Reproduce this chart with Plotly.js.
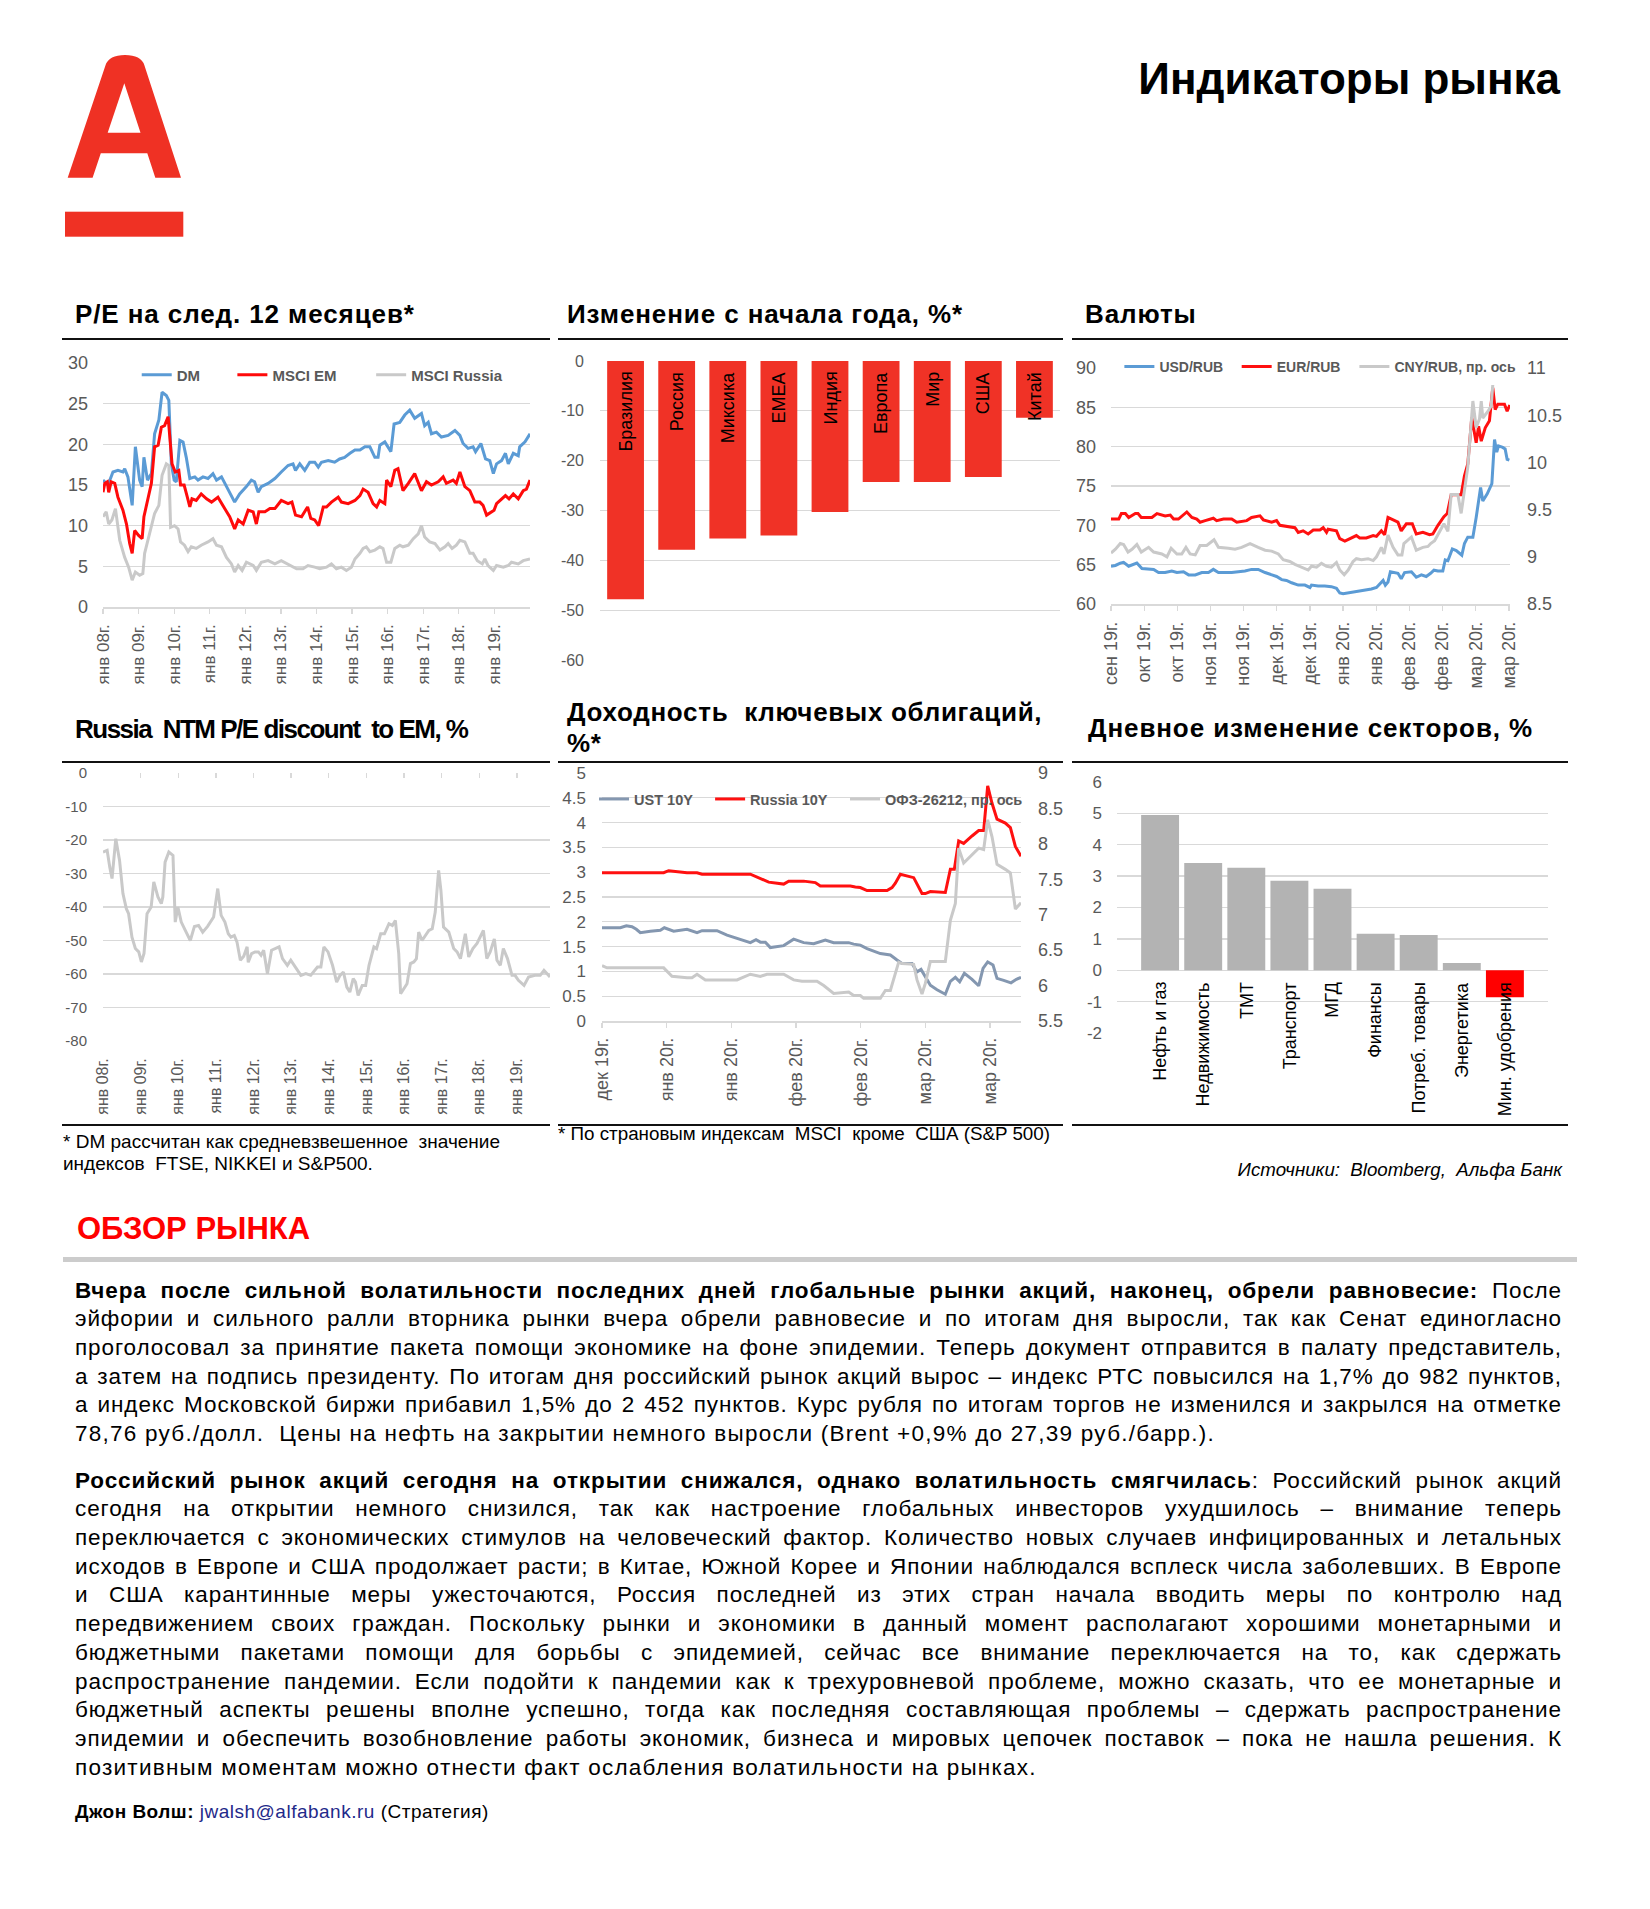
<!DOCTYPE html>
<html><head><meta charset="utf-8">
<script src="https://cdn.plot.ly/plotly-3.0.1.min.js"></script>
<style>
body{margin:0;background:#fff;}
#page{position:relative;width:1650px;height:1909px;background:#fff;font-family:'Liberation Sans',Arial,Helvetica,sans-serif;color:#000;overflow:hidden;}
.ttl{position:absolute;font-weight:bold;font-size:26px;line-height:30px;letter-spacing:0.9px;white-space:nowrap;}
.rule{position:absolute;height:2px;background:#111;}
.chart{position:absolute;}
.note{position:absolute;font-size:19px;line-height:21.6px;white-space:nowrap;}
.txt{position:absolute;left:75px;width:1487px;font-size:22.5px;line-height:28.7px;letter-spacing:0.9px;}
.txt .j{text-align:justify;text-align-last:justify;}
.txt .l{text-align:left;letter-spacing:1.25px;}
</style></head>
<body><div id="page">
<svg style="position:absolute;left:0;top:0" width="250" height="250">
<path fill="#ef3124" fill-rule="evenodd" d="M67.7 177.7 L105.6 65 Q109 55 125 55 Q141 55 144.3 65 L181 177.7 L155.3 177.7 L147.3 153.3 L100.8 153.3 L92.6 177.7 Z M107.7 132.7 L124.3 83.3 L140.5 132.7 Z"/>
<rect x="65" y="211.7" width="118.3" height="25" fill="#ef3124"/>
</svg>
<div style="position:absolute;right:90px;top:57px;font-size:44px;line-height:44px;font-weight:bold;white-space:nowrap;">Индикаторы рынка</div>

<div class="ttl" style="left:75px;top:299px">P/E на след. 12 месяцев*</div>
<div class="ttl" style="left:567px;top:299px">Изменение с начала года, %*</div>
<div class="ttl" style="left:1085px;top:299px">Валюты</div>
<div class="rule" style="left:62px;width:488px;top:338px"></div>
<div class="rule" style="left:558px;width:505px;top:338px"></div>
<div class="rule" style="left:1072px;width:496px;top:338px"></div>

<div class="ttl" style="left:75px;top:714px;letter-spacing:-1.5px">Russia&nbsp; NTM P/E discount&nbsp; to EM, %</div>
<div class="ttl" style="left:567px;top:697px;line-height:31.3px;letter-spacing:0.7px">Доходность&nbsp; ключевых облигаций,<br>%*</div>
<div class="ttl" style="left:1088px;top:713px">Дневное изменение секторов, %</div>
<div class="rule" style="left:62px;width:488px;top:761px"></div>
<div class="rule" style="left:558px;width:505px;top:761px"></div>
<div class="rule" style="left:1072px;width:496px;top:761px"></div>
<div class="rule" style="left:62px;width:488px;top:1124px"></div>
<div class="rule" style="left:558px;width:505px;top:1124px"></div>
<div class="rule" style="left:1072px;width:496px;top:1124px"></div>

<div id="c1" class="chart" style="left:60px;top:340px;width:495px;height:360px"></div>
<div id="c2" class="chart" style="left:555px;top:340px;width:515px;height:360px"></div>
<div id="c3" class="chart" style="left:1070px;top:340px;width:520px;height:360px"></div>
<div id="c4" class="chart" style="left:60px;top:762px;width:495px;height:363px"></div>
<div id="c5" class="chart" style="left:555px;top:762px;width:515px;height:363px"></div>
<div id="c6" class="chart" style="left:1070px;top:762px;width:520px;height:363px"></div>

<div class="note" style="left:63px;top:1131px">* DM рассчитан как средневзвешенное&nbsp; значение<br>индексов&nbsp; FTSE, NIKKEI и S&amp;P500.</div>
<div class="note" style="left:558px;top:1123px;font-size:18.8px">* По страновым индексам&nbsp; MSCI&nbsp; кроме&nbsp; США (S&amp;P 500)</div>
<div class="note" style="right:88px;top:1159px;font-style:italic;font-size:18.7px">Источники:&nbsp; Bloomberg,&nbsp; Альфа Банк</div>

<div style="position:absolute;left:77px;top:1212px;font-size:31px;line-height:34px;font-weight:bold;color:#ff0000;white-space:nowrap">ОБЗОР РЫНКА</div>
<div style="position:absolute;left:63px;width:1514px;top:1257px;height:5px;background:#cccccc"></div>

<div class="txt" style="top:1276.6px">
<div class="j"><b>Вчера после сильной волатильности последних дней глобальные рынки акций, наконец, обрели равновесие:</b> После</div>
<div class="j">эйфории и сильного ралли вторника рынки вчера обрели равновесие и по итогам дня выросли, так как Сенат единогласно</div>
<div class="j">проголосовал за принятие пакета помощи экономике на фоне эпидемии. Теперь документ отправится в палату представитель,</div>
<div class="j">а затем на подпись президенту. По итогам дня российский рынок акций вырос – индекс РТС повысился на 1,7% до 982 пунктов,</div>
<div class="j">а индекс Московской биржи прибавил 1,5% до 2&nbsp;452 пунктов. Курс рубля по итогам торгов не изменился и закрылся на отметке</div>
<div class="l">78,76 руб./долл.&nbsp; Цены на нефть на закрытии немного выросли (Brent +0,9% до 27,39 руб./барр.).</div>
</div>
<div class="txt" style="top:1466.6px">
<div class="j"><b>Российский рынок акций сегодня на открытии снижался, однако волатильность смягчилась</b>: Российский рынок акций</div>
<div class="j">сегодня на открытии немного снизился, так как настроение глобальных инвесторов ухудшилось – внимание теперь</div>
<div class="j">переключается с экономических стимулов на человеческий фактор. Количество новых случаев инфицированных и летальных</div>
<div class="j">исходов в Европе и США продолжает расти; в Китае, Южной Корее и Японии наблюдался всплеск числа заболевших. В Европе</div>
<div class="j">и США карантинные меры ужесточаются, Россия последней из этих стран начала вводить меры по контролю над</div>
<div class="j">передвижением своих граждан. Поскольку рынки и экономики в данный момент располагают хорошими монетарными и</div>
<div class="j">бюджетными пакетами помощи для борьбы с эпидемией, сейчас все внимание переключается на то, как сдержать</div>
<div class="j">распространение пандемии. Если подойти к пандемии как к трехуровневой проблеме, можно сказать, что ее монетарные и</div>
<div class="j">бюджетный аспекты решены вполне успешно, тогда как последняя составляющая проблемы – сдержать распространение</div>
<div class="j">эпидемии и обеспечить возобновление работы экономик, бизнеса и мировых цепочек поставок – пока не нашла решения. К</div>
<div class="l">позитивным моментам можно отнести факт ослабления волатильности на рынках.</div>
</div>
<div style="position:absolute;left:75px;top:1801px;font-size:19px;line-height:22px;letter-spacing:0.5px;white-space:nowrap"><b>Джон Волш:</b> <span style="color:#1f2a8a">jwalsh@alfabank.ru</span> (Стратегия)</div>
</div>

<script>
// ---------- DATA ----------
// P/E NTM (x = year)
const peYearTicks = [2008,2009,2010,2011,2012,2013,2014,2015,2016,2017,2018,2019];
const peYearLabels = ['янв 08г.','янв 09г.','янв 10г.','янв 11г.','янв 12г.','янв 13г.','янв 14г.','янв 15г.','янв 16г.','янв 17г.','янв 18г.','янв 19г.'];
const peDmX = [2008.00,2008.14,2008.28,2008.42,2008.56,2008.61,2008.70,2008.82,2008.91,2009.03,2009.10,2009.15,2009.25,2009.36,2009.45,2009.57,2009.66,2009.78,2009.85,2009.92,2010.00,2010.06,2010.16,2010.25,2010.34,2010.44,2010.58,2010.67,2010.81,2010.95,2011.09,2011.19,2011.33,2011.51,2011.70,2011.84,2012.03,2012.17,2012.26,2012.36,2012.45,2012.64,2012.83,2013.01,2013.20,2013.34,2013.41,2013.53,2013.67,2013.81,2013.95,2014.05,2014.14,2014.33,2014.51,2014.65,2014.79,2014.94,2015.08,2015.22,2015.36,2015.50,2015.64,2015.73,2015.78,2015.92,2016.01,2016.09,2016.18,2016.34,2016.48,2016.62,2016.76,2016.95,2017.04,2017.14,2017.23,2017.37,2017.51,2017.70,2017.89,2018.03,2018.12,2018.26,2018.40,2018.47,2018.62,2018.75,2018.87,2018.97,2019.06,2019.20,2019.31,2019.39,2019.53,2019.67,2019.71,2019.86,2020.00];
const peDm = [15.6,15.0,16.6,16.8,16.6,17.0,16.0,12.5,19.7,15.6,14.8,18.4,15.6,16.4,21.3,23.0,26.4,26.0,25.4,17.6,15.6,15.4,20.5,20.3,18.4,15.8,16.0,15.6,16.0,15.8,16.4,15.6,16.0,14.5,12.9,13.9,14.8,15.6,15.4,14.1,14.8,15.2,15.8,16.6,17.4,17.6,16.8,17.6,16.8,17.8,17.8,17.2,17.8,18.0,17.8,18.2,18.4,18.9,19.3,19.3,19.7,19.7,18.4,18.4,19.9,20.3,19.7,19.1,22.5,22.7,23.6,24.2,23.2,23.8,22.3,22.7,21.3,21.5,20.9,21.1,21.7,21.1,20.1,19.5,19.7,19.1,20.1,18.2,18.0,16.4,17.6,18.0,18.9,17.6,18.9,18.6,19.7,20.3,21.3];
const peEmX = [2008.00,2008.05,2008.12,2008.16,2008.23,2008.33,2008.42,2008.56,2008.66,2008.75,2008.82,2008.89,2009.00,2009.10,2009.15,2009.27,2009.36,2009.45,2009.55,2009.64,2009.73,2009.83,2009.87,2009.94,2010.03,2010.13,2010.18,2010.28,2010.37,2010.44,2010.50,2010.62,2010.76,2010.91,2011.05,2011.23,2011.42,2011.56,2011.70,2011.80,2011.94,2012.08,2012.22,2012.31,2012.38,2012.55,2012.69,2012.83,2013.01,2013.20,2013.31,2013.41,2013.58,2013.75,2013.84,2013.95,2014.06,2014.19,2014.28,2014.42,2014.61,2014.70,2014.89,2015.08,2015.22,2015.31,2015.45,2015.59,2015.69,2015.78,2015.92,2015.97,2016.09,2016.20,2016.29,2016.43,2016.58,2016.76,2016.95,2017.09,2017.23,2017.42,2017.56,2017.65,2017.84,2017.93,2018.03,2018.17,2018.31,2018.45,2018.59,2018.68,2018.78,2018.92,2018.99,2019.06,2019.20,2019.31,2019.41,2019.53,2019.67,2019.81,2019.90,2020.00];
const peEm = [14.1,15.2,15.4,14.1,15.4,15.2,13.5,11.9,10.2,7.8,6.6,9.4,8.8,8.4,11.1,13.5,15.2,19.7,19.9,22.1,22.3,23.4,20.9,17.6,16.6,16.8,15.0,15.0,13.5,12.3,13.3,13.1,13.9,13.3,12.9,13.5,12.1,11.1,9.6,10.7,10.2,11.9,11.7,10.2,11.7,11.7,12.1,12.1,13.1,12.7,12.9,11.3,11.1,12.3,10.9,10.7,10.0,12.3,12.3,12.9,13.5,12.9,12.7,13.1,13.7,14.5,14.1,12.7,12.3,13.1,12.7,15.6,14.8,16.8,17.0,14.3,15.2,16.4,14.3,15.4,15.0,15.4,16.0,15.2,15.6,15.2,16.6,14.8,14.3,12.9,12.9,12.5,11.3,11.7,11.9,12.7,13.3,13.7,13.3,13.9,13.3,14.3,14.5,15.6];
const peRuX = [2008.00,2008.09,2008.16,2008.25,2008.35,2008.47,2008.61,2008.72,2008.82,2008.91,2009.03,2009.12,2009.17,2009.27,2009.36,2009.45,2009.57,2009.66,2009.78,2009.85,2009.90,2010.01,2010.11,2010.18,2010.29,2010.39,2010.48,2010.62,2010.76,2010.95,2011.09,2011.19,2011.33,2011.47,2011.61,2011.70,2011.80,2011.91,2012.03,2012.22,2012.31,2012.45,2012.64,2012.83,2013.01,2013.20,2013.44,2013.62,2013.76,2013.95,2014.09,2014.28,2014.42,2014.56,2014.70,2014.84,2014.98,2015.08,2015.22,2015.31,2015.40,2015.50,2015.64,2015.78,2015.87,2015.97,2016.09,2016.20,2016.34,2016.43,2016.58,2016.72,2016.86,2016.95,2017.04,2017.18,2017.33,2017.47,2017.61,2017.70,2017.81,2017.93,2018.03,2018.17,2018.31,2018.40,2018.52,2018.66,2018.73,2018.82,2018.97,2019.06,2019.25,2019.39,2019.48,2019.67,2019.81,2020.00];
const peRu = [11.1,11.7,10.2,10.7,12.1,8.2,6.1,4.9,3.3,4.3,3.9,4.1,6.6,8.4,10.2,11.5,12.5,16.2,17.6,17.4,9.8,10.0,9.6,8.0,7.6,6.8,7.4,7.2,7.6,8.0,8.4,7.6,7.4,6.1,5.3,4.3,5.1,4.5,5.5,5.1,4.5,5.5,5.7,5.3,5.7,5.3,4.7,4.7,5.1,4.9,4.7,4.9,5.3,4.7,4.9,4.5,4.9,5.9,6.6,7.2,7.4,6.8,7.0,7.4,7.2,5.5,5.5,7.2,7.6,7.4,7.6,8.4,9.0,10.0,8.6,8.0,7.8,7.0,7.4,7.8,7.2,7.6,8.2,8.0,6.6,6.6,5.7,5.3,5.9,5.1,4.5,5.1,4.9,5.1,5.5,5.3,5.7,5.9];

// YTD change, %
const ytdCountries = ['Бразилия','Россия','Миксика','EMEA','Индия','Европа','Мир','США','Китай'];
const ytdChange = [-47.8,-37.9,-35.6,-35.0,-30.3,-24.3,-24.3,-23.3,-11.4];
const ytdTickVals = [0,-10,-20,-30,-40,-50,-60];
const ytdTickText = ['0','-10','-20','-30','-40','-50','-60'];

// Currencies (x = days from 28.09.2019)
const fxTickDays = [0,15,30,45,60,75,90,105,120,135,150,165,180];
const fxTickLabels = ['сен 19г.','окт 19г.','окт 19г.','ноя 19г.','ноя 19г.','дек 19г.','дек 19г.','янв 20г.','янв 20г.','фев 20г.','фев 20г.','мар 20г.','мар 20г.'];
const usdX = [0,2,4.2,5.7,8,9.5,11.7,14,17,19.3,21.5,24.5,27.5,29.8,32.8,35.1,38.1,41.1,44.1,46.3,48.6,51.6,54.6,57.6,60.6,63.6,66.6,69.7,72.7,74.9,77.2,79.4,81.7,84.7,87.7,90,90.7,93.7,96.7,99.7,102,103.5,105,107.3,110.3,112.5,114.8,117.8,120.1,121.6,123.1,124.1,125.3,126.4,128.3,129.8,131.3,132.8,135.9,138.1,140.4,142.6,144.6,146.1,147.9,150.1,151.2,152.4,154.4,156.2,158.7,159.9,161.4,163.7,165.2,167.2,168.2,170.2,172.3,173.5,174.5,175.3,177.2,178.3,179.2,180.2];
const usdRub = [64.8,64.9,65.2,65.3,64.8,65.0,65.2,64.5,64.4,64.4,64.0,64.0,64.2,64.0,64.1,63.7,63.7,64.0,64.0,64.4,64.0,64.0,64.0,64.1,64.2,64.4,64.4,64.0,63.7,63.5,63.1,63.0,62.7,62.4,62.4,62.1,62.4,62.3,62.3,62.2,62.0,61.4,61.3,61.4,61.6,61.7,61.8,61.9,62.1,62.6,63.0,62.4,62.8,64.1,64.0,63.9,63.2,64.0,64.1,63.4,63.7,63.5,63.9,64.3,64.2,64.2,65.6,65.5,67.0,66.8,66.2,67.7,68.5,68.5,71.0,74.8,73.1,74.0,75.3,80.9,79.3,80.1,79.9,79.7,78.4,78.3];
const eurX = [0,3.5,4.7,6.5,8.0,11.0,12.2,13.7,18.5,20.8,24.5,26.8,28.3,30.5,34.3,36.6,38.8,40.3,42.6,46.3,47.8,50.9,54.6,56.9,61.4,63.6,67.4,68.9,72.7,74.9,76.4,79.4,83.2,84.7,86.9,89.2,91.5,94.5,96.0,97.5,98.2,102.0,103.5,105.8,108.8,111.0,112.5,115.5,118.6,120.1,122.3,123.8,125.3,128.3,129.8,131.3,133.6,136.3,138.1,141.1,144.1,145.6,147.9,150.6,152.1,153.9,158.4,159.9,161.4,163.2,165.2,166.3,167.5,169.3,171.2,172.7,173.8,175.0,178.0,179.2,180.4];
const eurRub = [70.8,70.8,71.5,71.5,71.0,71.5,71.5,71.0,71.0,71.5,71.2,71.3,70.8,70.8,71.7,71.0,70.8,70.4,70.6,70.9,70.6,70.8,70.8,70.4,70.6,71.0,71.2,70.7,70.4,70.6,70.0,69.9,69.7,69.1,69.3,68.9,69.4,69.4,69.7,69.1,69.5,69.3,68.3,68.0,68.4,68.7,68.4,68.4,68.7,68.6,69.3,68.8,71.0,70.6,70.4,69.3,70.2,70.2,68.9,69.1,68.8,68.9,70.0,71.1,71.5,73.9,73.9,76.3,77.8,83.7,80.5,82.6,80.7,82.4,83.3,87.5,84.7,85.4,85.4,84.5,85.3];
const cnyX = [0,2.0,4.2,5.7,7.7,9.5,11.7,13.7,17.0,19.3,23.0,25.3,27.2,29.8,32.0,33.9,35.8,38.1,40.3,43.3,46.6,48.6,53.1,56.1,59.1,62.9,66.6,69.7,72.7,75.7,77.9,80.9,83.2,86.2,89.2,90.7,93.0,95.2,97.5,99.7,102.0,103.5,105.5,107.3,109.5,111.0,113.3,116.3,118.6,120.1,122.3,123.5,125.3,127.6,129.8,131.6,132.5,135.9,138.1,141.1,143.4,144.6,146.4,150.6,152.4,153.9,156.9,158.4,161.4,163.7,165.2,166.7,167.5,168.2,170.5,172.0,172.7];
const cnyRub = [9.04,9.08,9.14,9.13,9.05,9.08,9.13,9.05,9.10,9.05,9.03,9.00,9.09,9.03,9.03,9.10,9.03,9.02,9.12,9.12,9.18,9.10,9.09,9.08,9.10,9.14,9.10,9.07,9.06,9.03,8.97,8.95,8.92,8.89,8.86,8.90,8.89,8.93,8.90,8.89,8.94,8.86,8.81,8.86,8.95,8.98,8.97,8.98,8.96,9.00,9.10,9.03,9.23,9.10,9.02,9.02,9.14,9.21,9.07,9.10,9.11,9.14,9.17,9.35,9.27,9.66,9.66,9.46,9.95,10.65,10.37,10.46,10.65,10.47,10.54,10.60,10.82];

// Russia NTM P/E discount to EM, %
const discX = [2008.00,2008.11,2008.18,2008.24,2008.34,2008.44,2008.53,2008.62,2008.68,2008.77,2008.86,2008.95,2009.02,2009.09,2009.17,2009.28,2009.35,2009.46,2009.55,2009.59,2009.65,2009.75,2009.86,2009.92,2009.99,2010.08,2010.21,2010.32,2010.43,2010.54,2010.65,2010.78,2010.94,2011.05,2011.14,2011.24,2011.33,2011.40,2011.49,2011.56,2011.65,2011.74,2011.83,2011.86,2011.95,2012.04,2012.13,2012.20,2012.27,2012.37,2012.48,2012.59,2012.68,2012.77,2012.90,2012.99,2013.08,2013.26,2013.39,2013.52,2013.70,2013.79,2013.87,2013.98,2014.10,2014.21,2014.30,2014.39,2014.48,2014.56,2014.65,2014.71,2014.78,2014.89,2014.98,2015.07,2015.20,2015.27,2015.38,2015.48,2015.60,2015.69,2015.77,2015.86,2015.91,2016.01,2016.08,2016.17,2016.26,2016.33,2016.39,2016.48,2016.57,2016.66,2016.75,2016.83,2016.92,2016.98,2017.05,2017.19,2017.32,2017.41,2017.50,2017.63,2017.72,2017.83,2017.94,2018.11,2018.20,2018.29,2018.40,2018.47,2018.56,2018.64,2018.75,2018.87,2018.95,2019.04,2019.19,2019.31,2019.48,2019.62,2019.72,2019.88];
const discVal = [-23.6,-23.1,-28.1,-31.5,-19.6,-26.1,-36.0,-40.5,-42.0,-49.0,-52.4,-53.4,-56.4,-53.9,-42.0,-40.0,-32.5,-37.0,-39.0,-37.0,-26.6,-23.6,-24.6,-44.5,-40.0,-44.5,-47.5,-50.0,-45.8,-45.5,-47.5,-45.8,-43.0,-34.5,-42.5,-44.5,-48.0,-49.0,-48.5,-50.4,-55.9,-54.7,-51.9,-56.5,-53.9,-53.4,-53.4,-54.4,-52.9,-59.9,-52.9,-52.4,-51.9,-55.4,-57.4,-55.9,-57.4,-60.4,-59.9,-60.4,-57.9,-57.9,-51.9,-53.4,-57.4,-62.4,-60.4,-59.4,-63.9,-65.4,-61.4,-62.4,-66.4,-63.4,-63.4,-57.4,-51.9,-52.4,-48.0,-48.0,-45.0,-45.5,-44.0,-53.9,-65.9,-63.9,-62.9,-56.9,-56.4,-55.4,-47.5,-50.0,-48.5,-47.0,-46.5,-41.5,-29.1,-35.0,-46.0,-47.5,-52.4,-53.4,-55.4,-48.0,-54.9,-52.4,-50.9,-47.0,-55.4,-53.4,-49.5,-55.9,-57.4,-52.4,-55.4,-60.4,-60.4,-61.9,-63.4,-60.9,-60.4,-60.4,-58.9,-60.9];
const discTickVals = [0,-10,-20,-30,-40,-50,-60,-70,-80];
const discTickText = ['0','-10','-20','-30','-40','-50','-60','-70','-80'];

// Bond yields (x = days from 26.12.2019)
const bondTickDays = [0,14,28,42,56,70,84];
const bondTickLabels = ['дек 19г.','янв 20г.','янв 20г.','фев 20г.','фев 20г.','мар 20г.','мар 20г.'];
const ustX = [0,3.97,5.27,6.49,7.43,8.30,10.46,12.63,13.49,15.51,18.40,20.57,21.65,24.90,27.06,29.22,32.11,33.34,34.28,35.36,36.44,39.33,41.49,43.66,45.82,48.35,50.15,53.40,54.48,55.92,57.37,60.25,62.42,63.86,64.94,67.11,68.19,69.06,69.99,71.08,72.52,74.32,75.41,76.49,77.43,78.44,80.10,81.54,82.48,83.49,84.64,85.51,86.95,88.54,89.70,90.70];
const ust10 = [1.88,1.88,1.92,1.90,1.85,1.78,1.81,1.83,1.88,1.81,1.85,1.78,1.82,1.82,1.73,1.66,1.58,1.64,1.59,1.59,1.48,1.52,1.65,1.58,1.56,1.63,1.58,1.58,1.55,1.53,1.46,1.36,1.33,1.23,1.16,1.16,0.99,1.04,0.89,0.72,0.63,0.54,0.80,0.88,0.79,0.96,0.84,0.71,1.06,1.19,1.13,0.86,0.82,0.77,0.84,0.88];
const rusX = [0,13.35,14.43,18.40,20.57,21.65,32.11,34.28,36.08,39.33,40.41,43.66,46.18,47.26,53.76,54.84,55.92,57.37,61.70,62.78,63.50,64.58,67.47,69.27,69.99,71.08,74.32,75.41,76.27,77.21,78.29,80.10,81.54,82.62,83.49,84.43,85.51,87.31,88.40,89.48,90.70];
const rus10 = [2.99,2.99,3.03,2.99,2.99,2.96,2.96,2.88,2.80,2.76,2.82,2.82,2.79,2.72,2.72,2.70,2.69,2.63,2.63,2.69,2.78,2.96,2.89,2.57,2.57,2.61,2.59,3.06,3.06,3.63,3.58,3.73,3.84,3.84,4.74,4.39,4.07,3.99,3.90,3.52,3.32];
const ofzX = [0,1.08,13.35,15.15,18.40,19.48,20.57,22.37,29.22,32.11,34.28,35.72,39.33,41.49,43.30,46.54,47.99,50.15,53.40,54.48,55.92,56.65,60.25,61.34,62.42,64.22,64.94,67.47,68.19,69.27,69.99,71.08,74.32,75.41,76.49,77.21,78.29,80.10,81.54,82.62,83.49,84.43,85.51,87.31,88.40,89.48,90.70];
const ofz26212 = [6.28,6.25,6.25,6.13,6.11,6.11,6.16,6.08,6.08,6.16,6.13,6.16,6.16,6.08,6.06,6.06,6.00,5.89,5.91,5.86,5.86,5.82,5.82,5.93,5.93,6.33,6.31,6.30,6.08,5.88,6.03,6.34,6.34,6.92,7.16,7.94,7.73,7.84,7.94,7.92,8.34,8.10,7.71,7.64,7.59,7.08,7.17];

// Daily sector change, %
const sectors = ['Нефть и газ','Недвижимость','ТМТ','Транспорт','МГД','Финансы','Потреб. товары','Энергетика','Мин. удобрения'];
const sectorChange = [4.95,3.42,3.27,2.85,2.60,1.16,1.12,0.23,-0.86];
const sectorTickVals = [-2,-1,0,1,2,3,4,5,6];
const sectorTickText = ['-2','-1','0','1','2','3','4','5','6'];

// ---------- STYLE ----------
const FF = 'Liberation Sans, Arial, Helvetica, sans-serif';
const GRID = '#d9d9d9', TXT = '#595959';
const CFG = {displayModeBar:false, staticPlot:true};
function yAx(o){ return Object.assign({showgrid:true, gridcolor:GRID, gridwidth:1.3, zeroline:false, showline:false, ticks:'', tickfont:{family:FF,size:17,color:TXT}, ticklabelstandoff:14, automargin:false}, o); }
function xDate(o){ return Object.assign({showgrid:false, zeroline:false, showline:true, linecolor:GRID, linewidth:1.5, ticks:'outside', ticklen:5, tickcolor:GRID, tickwidth:1.3, tickangle:-90, tickfont:{family:FF,size:17,color:TXT}, ticklabelstandoff:4, automargin:false}, o); }
function leg(x,y,size,bg){ return {x:x, y:y, xanchor:'left', yanchor:'middle', orientation:'h', bgcolor:bg||'rgba(0,0,0,0)', borderwidth:0, font:{family:FF,size:size,color:TXT,weight:'bold'}}; }
function base(m){ return {margin:m, paper_bgcolor:'rgba(0,0,0,0)', plot_bgcolor:'rgba(0,0,0,0)', font:{family:FF}, showlegend:true}; }

// Chart 1: P/E
Plotly.newPlot('c1', [
  {x:peDmX, y:peDm, name:'DM', mode:'lines', line:{color:'#5b9bd5', width:3}, legend:'legend'},
  {x:peEmX, y:peEm, name:'MSCI EM', mode:'lines', line:{color:'#ff0a0a', width:3}, legend:'legend2'},
  {x:peRuX, y:peRu, name:'MSCI Russia', mode:'lines', line:{color:'#c9c9c9', width:3}, legend:'legend3'}
], Object.assign(base({l:43,r:25,t:23,b:93}), {
  xaxis: xDate({range:[2008,2020], tickvals:peYearTicks, ticktext:peYearLabels}),
  yaxis: yAx({range:[0,30], tickvals:[0,5,10,15,20,25,30], tickfont:{family:FF,size:18,color:TXT}}),
  legend: leg(0.079,0.951,15), legend2: leg(0.303,0.951,15), legend3: leg(0.628,0.951,15)
}), CFG);

// Chart 2: YTD change
Plotly.newPlot('c2', [
  {x:ytdCountries, y:ytdChange, type:'bar', marker:{color:'#f03226'}, showlegend:false}
], Object.assign(base({l:45,r:10,t:21,b:40}), {
  bargap:0.28,
  xaxis:{type:'category', range:[-0.5,8.5], showticklabels:false, showgrid:false, zeroline:false, showline:false, ticks:''},
  yaxis: yAx({range:[-60,0], tickvals:ytdTickVals, ticktext:ytdTickText, tickfont:{family:FF,size:16,color:TXT}, ticklabelstandoff:15}),
  annotations: ytdCountries.map(c => ({x:c, y:0, xref:'x', yref:'y', text:c, textangle:-90, xanchor:'center', yanchor:'top', yshift:-9, showarrow:false, font:{family:FF,size:18,color:'#000'}}))
}), CFG);

// Chart 3: currencies
Plotly.newPlot('c3', [
  {x:usdX, y:usdRub, name:'USD/RUB', mode:'lines', line:{color:'#5b9bd5', width:3}, legend:'legend'},
  {x:eurX, y:eurRub, name:'EUR/RUB', mode:'lines', line:{color:'#ff1010', width:3}, legend:'legend2'},
  {x:cnyX, y:cnyRub, name:'CNY/RUB, пр. ось', mode:'lines', line:{color:'#c9c9c9', width:3}, yaxis:'y2', legend:'legend3'}
], Object.assign(base({l:41,r:80,t:27,b:96}), {
  xaxis: xDate({range:[0,180.5], tickvals:fxTickDays, ticktext:fxTickLabels, tickfont:{family:FF,size:18,color:TXT}}),
  yaxis: yAx({range:[60,90], tickvals:[60,65,70,75,80,85,90], tickfont:{family:FF,size:18,color:TXT}}),
  yaxis2: yAx({range:[8.5,11], tickvals:[8.5,9,9.5,10,10.5,11], overlaying:'y', side:'right', showgrid:false, tickfont:{family:FF,size:18,color:TXT}, ticklabelstandoff:16}),
  legend: leg(0.021,1.0,14,'#ffffff'), legend2: leg(0.315,1.0,14,'#ffffff'), legend3: leg(0.610,1.0,14,'#ffffff')
}), CFG);

// Chart 4: Russia discount
Plotly.newPlot('c4', [
  {x:discX, y:discVal, mode:'lines', line:{color:'#c9c9c9', width:3}, showlegend:false},
  {x:[], y:[], xaxis:'x2', showlegend:false}
], Object.assign(base({l:43,r:5,t:11,b:84}), {
  xaxis:{range:[2008,2019.88], tickvals:peYearTicks, ticktext:peYearLabels, tickangle:-90, showgrid:false, zeroline:false, showline:false, ticks:'', tickfont:{family:FF,size:16,color:TXT}, ticklabelstandoff:13, automargin:false},
  xaxis2:{overlaying:'x', side:'top', range:[2008,2019.88], tickvals:peYearTicks, showticklabels:false, ticks:'inside', ticklen:5, tickcolor:GRID, tickwidth:1.3, showgrid:false, zeroline:false, showline:false},
  yaxis: yAx({range:[-80,0], tickvals:discTickVals, ticktext:discTickText, tickfont:{family:FF,size:15,color:TXT}, ticklabelstandoff:15})
}), CFG);

// Chart 5: bond yields
Plotly.newPlot('c5', [
  {x:ustX, y:ust10, name:'UST 10Y', mode:'lines', line:{color:'#8497b0', width:3}, legend:'legend'},
  {x:rusX, y:rus10, name:'Russia 10Y', mode:'lines', line:{color:'#ff1010', width:3}, legend:'legend2'},
  {x:ofzX, y:ofz26212, name:'ОФЗ-26212, пр. ось', mode:'lines', line:{color:'#c9c9c9', width:3}, yaxis:'y2', legend:'legend3'}
], Object.assign(base({l:47,r:49,t:11,b:104}), {
  xaxis: xDate({range:[0,90.7], tickvals:bondTickDays, ticktext:bondTickLabels, tickfont:{family:FF,size:18,color:TXT}, ticklabelstandoff:3}),
  yaxis: yAx({range:[0,5], tickvals:[0,0.5,1,1.5,2,2.5,3,3.5,4,4.5,5], ticklabelstandoff:15}),
  yaxis2: yAx({range:[5.5,9], tickvals:[5.5,6,6.5,7,7.5,8,8.5,9], overlaying:'y', side:'right', showgrid:false, tickfont:{family:FF,size:18,color:TXT}, ticklabelstandoff:16}),
  legend: leg(-0.019,0.895,14.5), legend2: leg(0.258,0.895,14.5), legend3: leg(0.580,0.895,14.5)
}), CFG);

// Chart 6: sectors
Plotly.newPlot('c6', [
  {x:sectors, y:sectorChange, type:'bar', marker:{color:sectorChange.map(v => v < 0 ? '#ff0000' : '#b3b3b3')}, showlegend:false}
], Object.assign(base({l:47,r:42,t:20,b:92}), {
  bargap:0.12,
  xaxis:{type:'category', range:[-1,9], showticklabels:false, showgrid:false, zeroline:false, showline:false, ticks:''},
  yaxis: yAx({range:[-2,6], tickvals:sectorTickVals, ticktext:sectorTickText, ticklabelstandoff:14}),
  annotations: sectors.map(s => ({x:s, y:0, xref:'x', yref:'y', text:s, textangle:-90, xanchor:'center', yanchor:'top', yshift:-10, showarrow:false, font:{family:FF,size:18,color:'#000'}}))
}), CFG);
</script>
</body></html>
